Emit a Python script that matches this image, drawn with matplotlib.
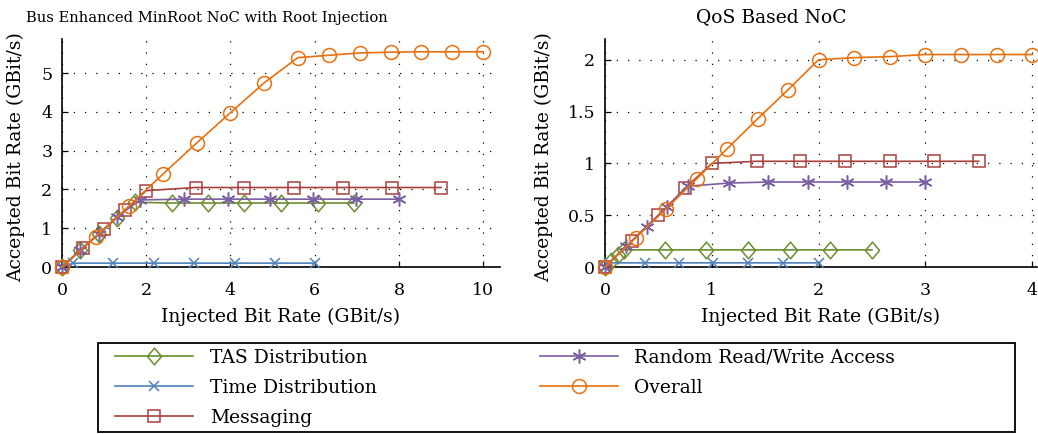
# -*- coding: utf-8 -*-
"""
Accepted vs. injected bit rate for two NoC variants.
"""

# %% Import packages.
import matplotlib
matplotlib.use('Agg')
import matplotlib.pyplot as plt
from matplotlib.patches import Rectangle
from matplotlib.path import Path

# %% Data.
series_names = ['TAS Distribution', 'Time Distribution', 'Messaging',
                'Random Read/Write Access', 'Overall']

# Bus Enhanced MinRoot NoC with Root Injection
tas_x = [0, 0.43, 0.87, 1.3, 1.73, 2.6, 3.47, 4.33, 5.2, 6.07, 6.93]
tas_y = [0, 0.43, 0.85, 1.27, 1.67, 1.65, 1.65, 1.65, 1.65, 1.65, 1.65]
time_x = [0, 0.26, 1.22, 2.18, 3.14, 4.1, 5.05, 6.0]
time_y = [0, 0.1, 0.1, 0.1, 0.1, 0.1, 0.1, 0.1]
msg_x = [0, 0.5, 1.0, 1.5, 2.0, 3.17, 4.33, 5.5, 6.67, 7.83, 9.0]
msg_y = [0, 0.49, 0.97, 1.47, 1.97, 2.05, 2.05, 2.05, 2.05, 2.05, 2.05]
rnd_x = [0, 0.43, 0.87, 1.3, 1.85, 2.9, 3.94, 4.95, 5.97, 6.98, 8.0]
rnd_y = [0, 0.44, 0.85, 1.29, 1.73, 1.75, 1.75, 1.75, 1.75, 1.75, 1.75]
all_x = [0, 0.8, 1.6, 2.4, 3.2, 4.0, 4.8, 5.6, 6.33, 7.07, 7.8, 8.53, 9.27, 10.0]
all_y = [0, 0.78, 1.58, 2.4, 3.2, 3.98, 4.75, 5.4, 5.46, 5.52, 5.54, 5.55, 5.55, 5.55]

# QoS Based NoC
tas2_x = [0, 0.06, 0.12, 0.18, 0.56, 0.95, 1.34, 1.73, 2.11, 2.5]
tas2_y = [0, 0.06, 0.12, 0.165, 0.165, 0.165, 0.165, 0.165, 0.165, 0.165]
time2_x = [0, 0.04, 0.37, 0.69, 1.01, 1.34, 1.67, 2.0]
time2_y = [0, 0.04, 0.04, 0.04, 0.04, 0.04, 0.04, 0.04]
msg2_x = [0, 0.25, 0.5, 0.75, 1.0, 1.42, 1.83, 2.25, 2.67, 3.08, 3.5]
msg2_y = [0, 0.25, 0.5, 0.76, 1.0, 1.02, 1.02, 1.02, 1.02, 1.02, 1.02]
rnd2_x = [0, 0.2, 0.39, 0.58, 0.78, 1.16, 1.53, 1.9, 2.27, 2.63, 3.0]
rnd2_y = [0, 0.2, 0.39, 0.58, 0.78, 0.81, 0.82, 0.82, 0.82, 0.82, 0.82]
all2_x = [0, 0.286, 0.571, 0.857, 1.143, 1.429, 1.714, 2.0, 2.333, 2.667, 3.0, 3.333, 3.667, 4.0]
all2_y = [0, 0.28, 0.56, 0.85, 1.14, 1.43, 1.71, 2.0, 2.02, 2.03, 2.05, 2.05, 2.05, 2.05]

left_yticks = [0, 1, 2, 3, 4, 5]
left_xticks = [0, 2, 4, 6, 8, 10]
right_yticks = [0, 0.5, 1, 1.5, 2]
right_yticklabels = ['0', '0.5', '1', '1.5', '2']
right_xticks = [0, 1, 2, 3, 4]

# %% Styles.
colours = ['#6a8f2e', '#4f81bd', '#a8403c', '#7a5fa3', '#e8700f']
diamond = Path([(0, 1), (0.85, 0), (0, -1), (-0.85, 0), (0, 1)],
               [Path.MOVETO, Path.LINETO, Path.LINETO, Path.LINETO, Path.CLOSEPOLY])
markers = [diamond, 'x', 's', (6, 2, 0), 'o']
msizes = [12, 7, 8, 10, 10]
hollow = [True, False, True, False, True]

plt.rcParams['font.family'] = ['DejaVu Serif']
plt.rcParams['font.size'] = 13.5

fig = plt.figure(figsize=(10.38, 4.34), dpi=100)
ax_l = fig.add_axes([62 / 1038, 167 / 434, 438 / 1038, 228 / 434])
ax_r = fig.add_axes([605 / 1038, 167 / 434, 432 / 1038, 228 / 434])


def plotting(ax, data, xlim, ylim, xticks, yticks, title, title_x, title_size, ylab_x,
             yticklabels=None):
    handles = []
    for (xs, ys), name, c, m, ms, hl in zip(data, series_names, colours, markers, msizes, hollow):
        h, = ax.plot(xs, ys, color=c, linewidth=1.2, marker=m, markersize=ms,
                     markerfacecolor='none' if hl else c,
                     markeredgewidth=1.1, label=name, clip_on=False, zorder=3)
        handles.append(h)

    ax.set_xlim(*xlim)
    ax.set_ylim(*ylim)
    ax.set_xticks(xticks)
    ax.set_yticks(yticks)
    if yticklabels is None:
        yticklabels = [str(t) for t in yticks]
    ax.set_yticklabels(yticklabels, fontsize=12.5)
    ax.set_xticklabels([str(t) for t in xticks], fontsize=12.5)

    for side in ['top', 'right']:
        ax.spines[side].set_visible(False)
    for side in ['left', 'bottom']:
        ax.spines[side].set_linewidth(1.2)
    ax.tick_params(direction='in', length=4, width=0.9)
    ax.tick_params(axis='x', pad=11)
    ax.tick_params(axis='y', pad=7)
    ax.grid(True, color='black', linestyle=(0, (1, 8)), linewidth=0.9)
    ax.set_axisbelow(True)

    ax.set_xlabel('Injected Bit Rate (GBit/s)', fontsize=13.5)
    ax.xaxis.set_label_coords(0.5, -0.18)
    ax.set_ylabel('Accepted Bit Rate (GBit/s)', fontsize=13.5)
    ax.yaxis.set_label_coords(ylab_x, 0.48)
    ax.set_title(title, x=title_x, pad=12, fontsize=title_size)
    return handles


handles = plotting(ax_l,
                   [(tas_x, tas_y), (time_x, time_y), (msg_x, msg_y), (rnd_x, rnd_y), (all_x, all_y)],
                   (0, 10.4), (0, 5.88), left_xticks, left_yticks,
                   'Bus Enhanced MinRoot NoC with Root Injection', 0.33, 10.6, -0.085)
plotting(ax_r,
         [(tas2_x, tas2_y), (time2_x, time2_y), (msg2_x, msg2_y), (rnd2_x, rnd2_y), (all2_x, all2_y)],
         (0, 4.045), (0, 2.2), right_xticks, right_yticks,
         'QoS Based NoC', 0.385, 13.5, -0.12, yticklabels=right_yticklabels)

# Legend below both plots, with a hand-drawn frame.
fig.patches.append(Rectangle((98 / 1038, 2 / 434), 917 / 1038, 89 / 434,
                             transform=fig.transFigure, fill=False,
                             edgecolor='black', linewidth=1.3))
fig.legend(handles=handles, loc='upper left', bbox_to_anchor=(115 / 1038, (434 - 349) / 434),
           ncol=2, frameon=False, handlelength=4.15, handletextpad=0.9,
           columnspacing=8.7, labelspacing=0.63, borderpad=0, borderaxespad=0,
           fontsize=13.5)

plt.savefig('out.png', dpi=100)
plt.close(fig)
